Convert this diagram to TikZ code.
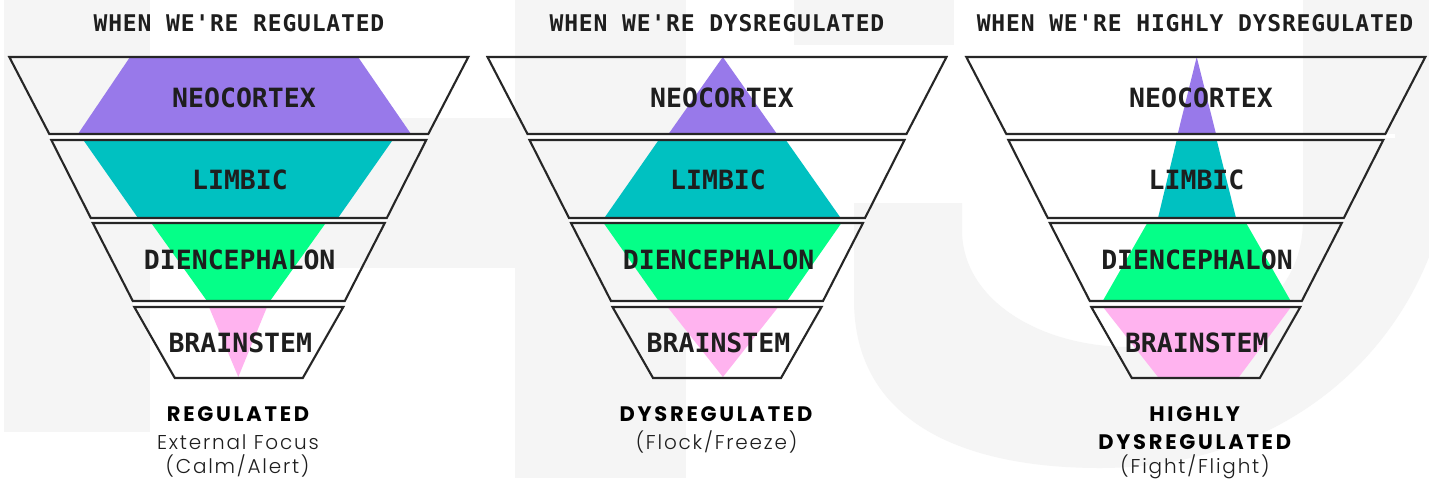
\documentclass[tikz,border=0pt]{standalone}
\usepackage{fontspec}
\newfontfamily\bandfont{DejaVu Sans Mono}
\newfontfamily\headfont{DejaVu Sans Mono}[LetterSpace=3.5]
\newfontfamily\tagfont{Poppins}[LetterSpace=13]
\newfontfamily\softfont{Poppins Light}[LetterSpace=9]

\definecolor{wm}{HTML}{F5F5F5}
\definecolor{ink}{HTML}{1E1E1E}
\definecolor{rim}{HTML}{262626}
\definecolor{neo}{HTML}{9879EA}
\definecolor{lim}{HTML}{00C1C1}
\definecolor{die}{HTML}{05FF88}
\definecolor{bst}{HTML}{FFB3EF}

\tikzset{
  rimline/.style={draw=rim, line width=2.1pt, line join=miter},
  gapfill/.style={fill=white},
  bandlabel/.style={anchor=base, inner sep=0pt, text=ink,
    font=\bandfont\bfseries\fontsize{26.5}{26.5}\selectfont},
  headlabel/.style={anchor=base, inner sep=0pt, text=ink,
    font=\headfont\bfseries\fontsize{23}{23}\selectfont},
  statelabel/.style={anchor=base, inner sep=0pt, text=black,
    font=\tagfont\bfseries\fontsize{21}{21}\selectfont},
  notelabel/.style={anchor=base, inner sep=0pt, text=ink,
    font=\softfont\fontsize{20}{20}\selectfont},
}

% one funnel of four bands around the vertical axis x = #1
\newcommand\funnelrims[1]{%
  \fill[gapfill] ({#1-189.5},134) rectangle ({#1+189.5},140);
  \fill[gapfill] ({#1-148},218) rectangle ({#1+148},223);
  \fill[gapfill] ({#1-106},301) rectangle ({#1+106},307);
  \draw[rimline] ({#1-229.5},57) -- ({#1+229.5},57) -- ({#1+189.5},134) -- ({#1-189.5},134) -- cycle;
  \draw[rimline] ({#1-187.5},140) -- ({#1+187.5},140) -- ({#1+148},218) -- ({#1-148},218) -- cycle;
  \draw[rimline] ({#1-146},223) -- ({#1+146},223) -- ({#1+106},301) -- ({#1-106},301) -- cycle;
  \draw[rimline] ({#1-104.5},307) -- ({#1+104.5},307) -- ({#1+64},378) -- ({#1-64},378) -- cycle;
}

\begin{document}
\begin{tikzpicture}[x=1pt,y=-1pt]
\useasboundingbox (0,0) rectangle (1429,480);
\fill[white] (0,0) rectangle (1429,480);

% faint watermark lettering behind everything
\fill[wm] (4,0) rectangle (150,432);
\fill[wm] (150,118) rectangle (515,268);
\fill[wm] (515,0) rectangle (686,478);
\fill[wm] (794,0) rectangle (954,45);
\fill[wm] (854,203) -- (854,300) .. controls (854,420) and (960,468) .. (1100,468)
  .. controls (1260,468) and (1380,380) .. (1429,257) -- (1429,0) -- (1303,0) -- (1303,220)
  .. controls (1303,300) and (1230,347) .. (1130,347)
  .. controls (1040,347) and (962,300) .. (962,230) -- (962,203) -- cycle;
\fill[white] (1007,134.3) rectangle (1395,137.7);

% --- regulated: wide top, tapering to a point
\fill[neo] (130,57) -- (358,57) -- (411,134) -- (78,134) -- cycle;
\fill[lim] (84,141) -- (392,141) -- (338,218) -- (138,218) -- cycle;
\fill[die] (152,224) -- (325,224) -- (270,301) -- (207,301) -- cycle;
\fill[bst] (209,307) -- (267,307) -- (238.3,377) -- cycle;
\funnelrims{238.8}

% --- dysregulated: diamond widest at the limbic layer
\fill[neo] (722.8,57) -- (777,134) -- (668.5,134) -- cycle;
\fill[lim] (658,141) -- (786.5,141) -- (840.7,218) -- (604.3,218) -- cycle;
\fill[die] (604.3,224) -- (840.7,224) -- (787,301) -- (658.6,301) -- cycle;
\fill[bst] (667.5,307) -- (778.2,307) -- (722.9,377) -- cycle;
\funnelrims{717}

% --- highly dysregulated: spike from the bottom up
\fill[neo] (1196.7,57) -- (1216,134) -- (1177.7,134) -- cycle;
\fill[lim] (1176.7,140) -- (1216.7,140) -- (1236,218) -- (1158,218) -- cycle;
\fill[die] (1146.7,224) -- (1246.7,224) -- (1290.7,301) -- (1102.7,301) -- cycle;
\fill[bst] (1103,307) -- (1291,307) -- (1239,377) -- (1158,377) -- cycle;
\funnelrims{1195.8}

% headings
\node[headlabel] (head1) at (239,31.7) {WHEN WE\char"27RE REGULATED};
\node[headlabel] (head2) at (717,31.7) {WHEN WE\char"27RE DYSREGULATED};
\node[headlabel] (head3) at (1195,31.7) {WHEN WE\char"27RE HIGHLY DYSREGULATED};

% layer names
\node[bandlabel] (neo1) at (244,107.3) {NEOCORTEX};
\node[bandlabel] (lim1) at (240,189.3) {LIMBIC};
\node[bandlabel] (die1) at (239.7,269.3) {DIENCEPHALON};
\node[bandlabel] (bst1) at (240.3,352.7) {BRAINSTEM};

\node[bandlabel] (neo2) at (722,107.3) {NEOCORTEX};
\node[bandlabel] (lim2) at (718,189.3) {LIMBIC};
\node[bandlabel] (die2) at (718.6,269.3) {DIENCEPHALON};
\node[bandlabel] (bst2) at (718.5,352.7) {BRAINSTEM};

\node[bandlabel] (neo3) at (1201,107.3) {NEOCORTEX};
\node[bandlabel] (lim3) at (1196.5,189.3) {LIMBIC};
\node[bandlabel] (die3) at (1197,269.3) {DIENCEPHALON};
\node[bandlabel] (bst3) at (1196.8,352.7) {BRAINSTEM};

% states
\node[statelabel] (st1) at (238,421) {REGULATED};
\node[notelabel] (nt1a) at (238,449.3) {External Focus};
\node[notelabel] (nt1b) at (237.5,473.3) {(Calm/Alert)};

\node[statelabel] (st2) at (716,421) {DYSREGULATED};
\node[notelabel] (nt2) at (716.5,449.3) {(Flock/Freeze)};

\node[statelabel] (st3a) at (1194.7,421) {HIGHLY};
\node[statelabel] (st3b) at (1194.7,449.3) {DYSREGULATED};
\node[notelabel] (nt3) at (1195,473.3) {(Fight/Flight)};
\end{tikzpicture}
\end{document}
